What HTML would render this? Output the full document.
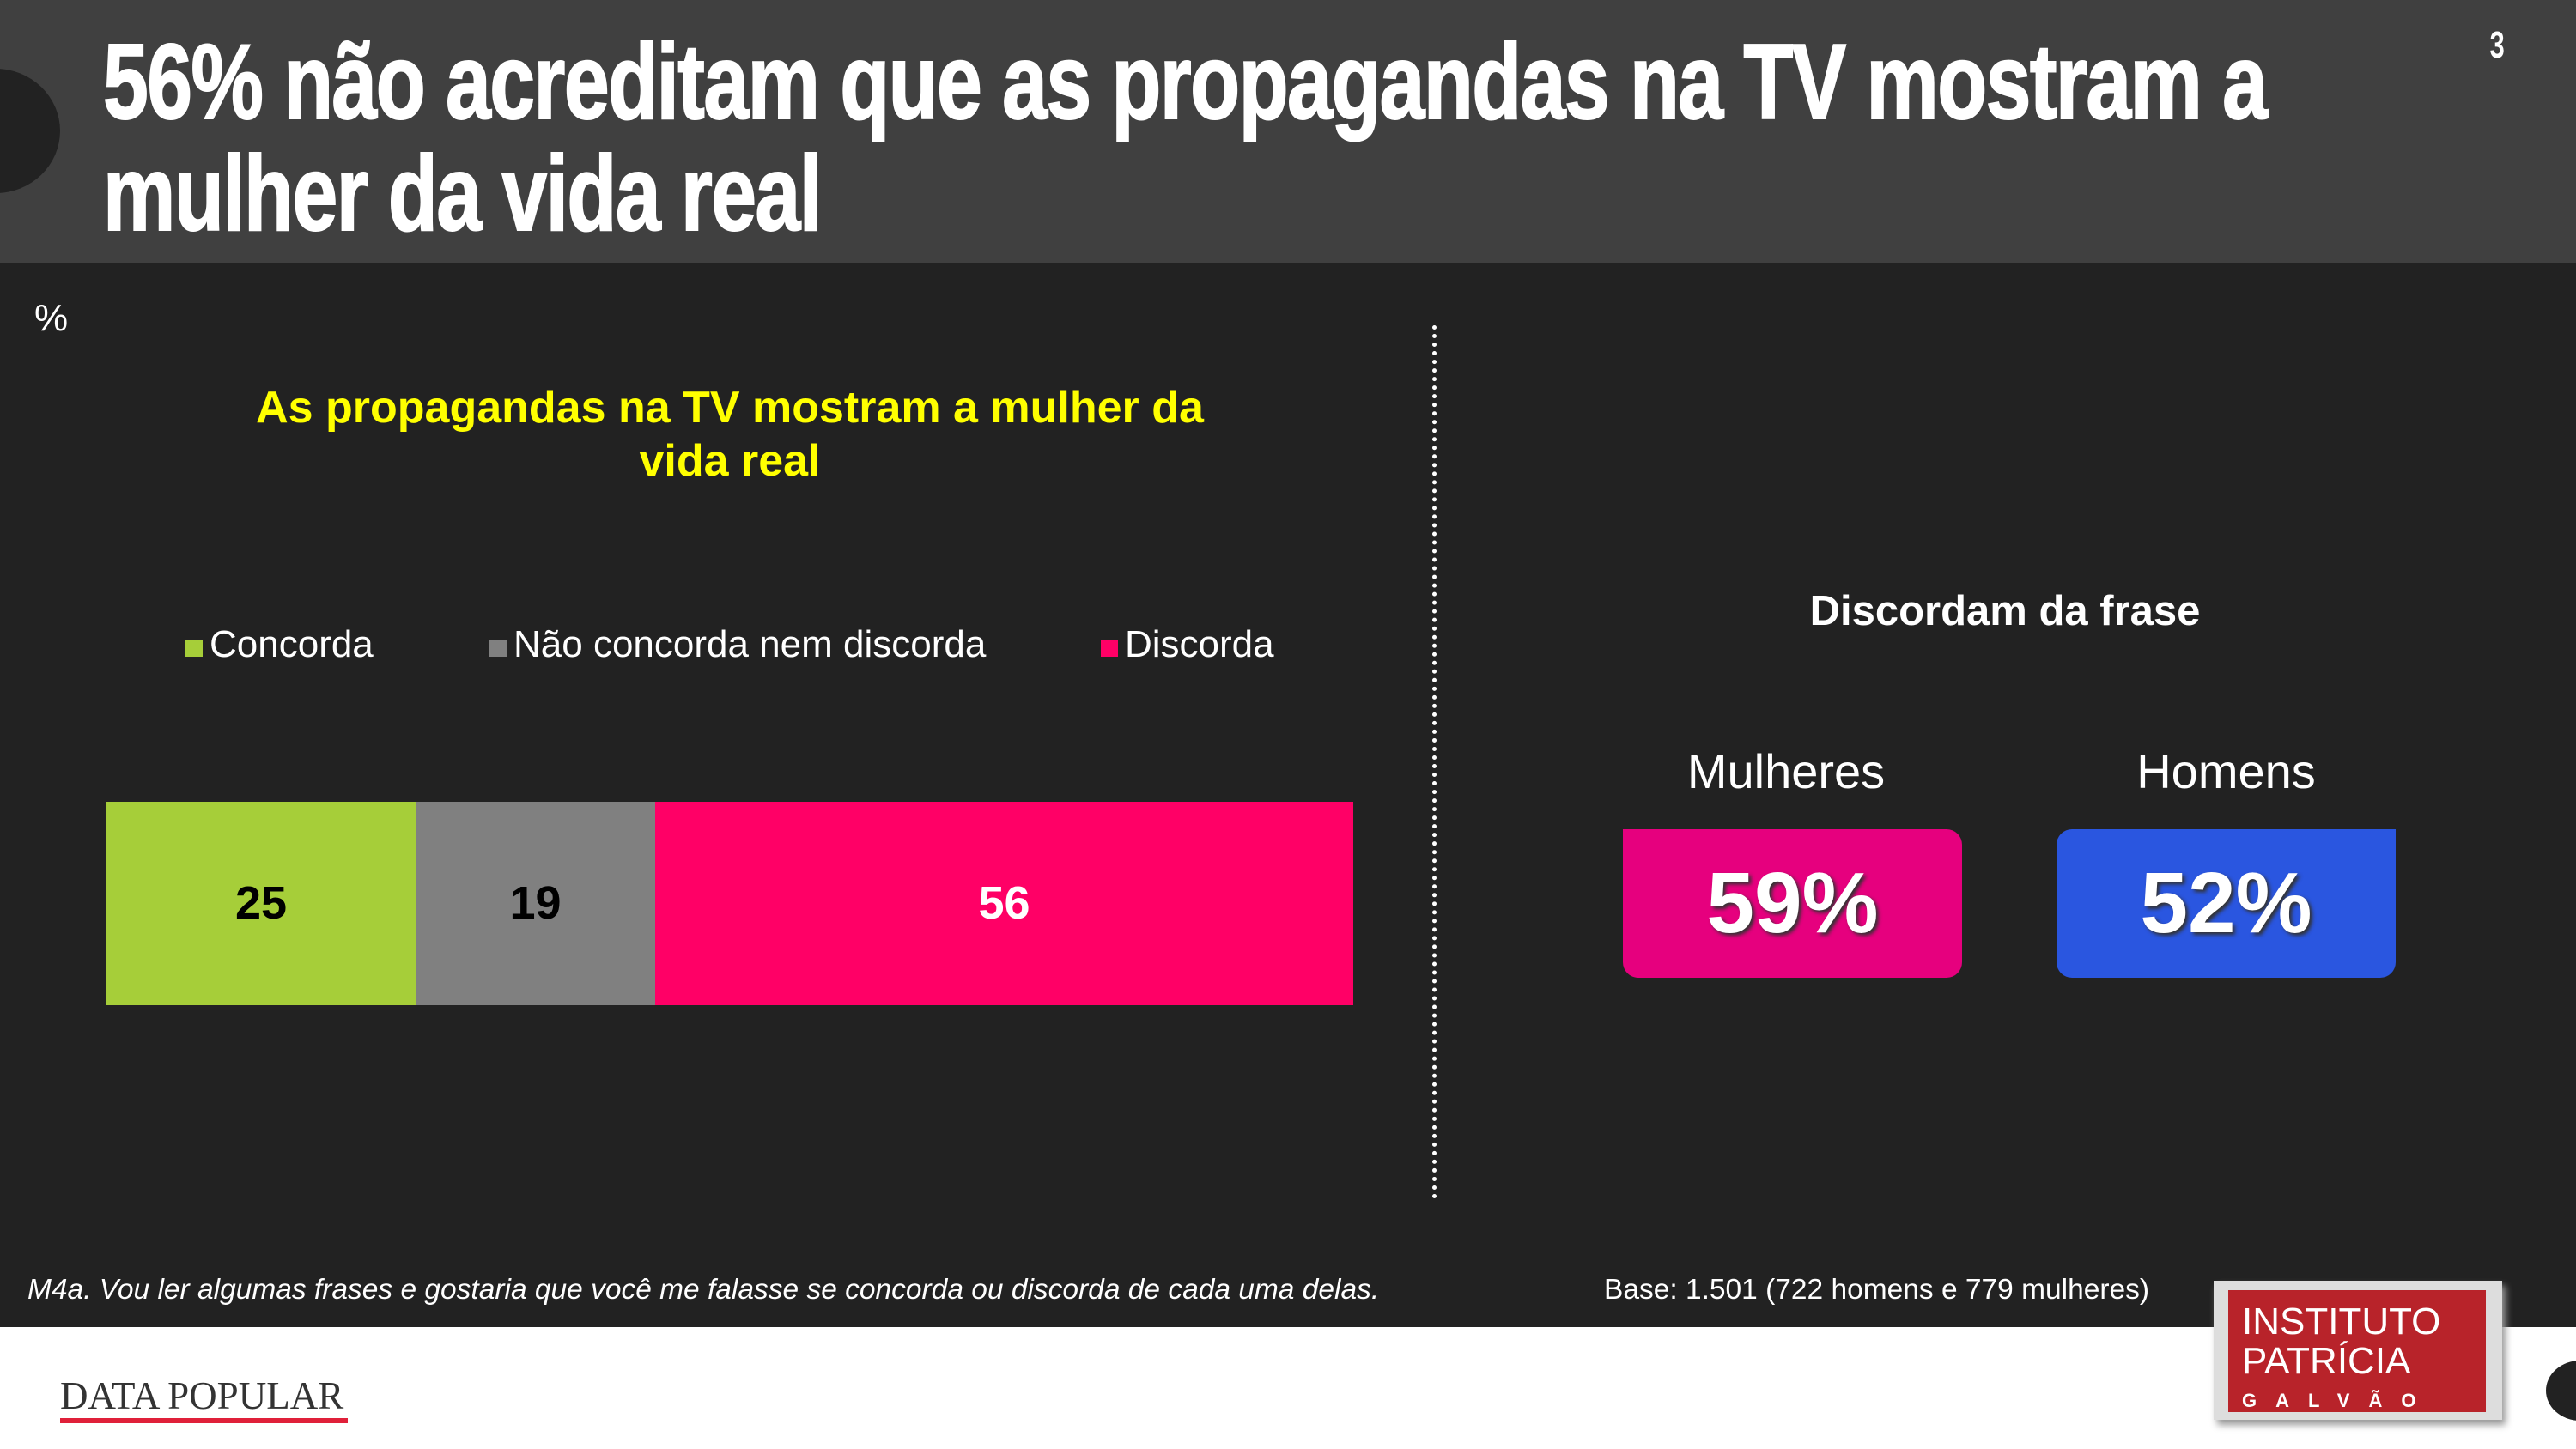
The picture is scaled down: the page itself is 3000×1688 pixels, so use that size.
<!DOCTYPE html>
<html><head><meta charset="utf-8"><style>
body{margin:0;width:3000px;height:1688px;overflow:hidden;background:#222;font-family:"Liberation Sans",sans-serif;position:relative}
div{position:absolute}
.t{color:#fff;font-weight:bold;font-size:124px;line-height:124px;transform-origin:0 0;transform:scaleX(0.765);white-space:nowrap;letter-spacing:-2px;-webkit-text-stroke:2px #fff}
</style></head><body>
<div style="left:0;top:0;width:3000px;height:306px;background:#404040"></div>
<div style="left:-80px;top:80px;width:150px;height:145px;border-radius:50%;background:#222"></div>
<div class="t" style="left:120px;top:34px">56% não acreditam que as propagandas na TV mostram a</div>
<div class="t" style="left:120px;top:164px">mulher da vida real</div>
<div style="left:2896px;top:28px;color:#fff;font-weight:bold;font-size:44px;transform:scaleX(0.7)">3</div>
<div style="left:40px;top:346px;color:#fff;font-size:44px">%</div>
<div style="left:150px;top:444px;width:1400px;text-align:center;color:#ffff00;font-weight:bold;font-size:52px;line-height:62px">As propagandas na TV mostram a mulher da<br>vida real</div>
<div style="left:216px;top:726px;color:#fff;font-size:44px;white-space:nowrap"><span style="display:inline-block;width:20px;height:20px;background:#a6ce39;margin-right:8px"></span>Concorda</div>
<div style="left:570px;top:726px;color:#fff;font-size:44px;white-space:nowrap"><span style="display:inline-block;width:20px;height:20px;background:#808080;margin-right:8px"></span>Não concorda nem discorda</div>
<div style="left:1282px;top:726px;color:#fff;font-size:44px;white-space:nowrap"><span style="display:inline-block;width:20px;height:20px;background:#ff0066;margin-right:8px"></span>Discorda</div>
<div style="left:124px;top:934px;width:360px;height:237px;background:#a6ce39;color:#000;font-weight:bold;font-size:54px;line-height:237px;text-align:center">25</div>
<div style="left:484px;top:934px;width:279px;height:237px;background:#808080;color:#000;font-weight:bold;font-size:54px;line-height:237px;text-align:center">19</div>
<div style="left:763px;top:934px;width:813px;height:237px;background:#ff0066;color:#fff;font-weight:bold;font-size:54px;line-height:237px;text-align:center">56</div>
<div style="left:1668px;top:379px;height:1018px;border-left:5px dotted #fff"></div>
<div style="left:1935px;top:684px;width:800px;text-align:center;color:#fff;font-weight:bold;font-size:49px">Discordam da frase</div>
<div style="left:1890px;top:866px;width:380px;text-align:center;color:#fff;font-size:56px">Mulheres</div>
<div style="left:2395px;top:866px;width:395px;text-align:center;color:#fff;font-size:56px">Homens</div>
<div style="left:1890px;top:966px;width:395px;height:173px;background:#e6007e;border-radius:0 18px 18px 18px;color:#fff;font-weight:bold;font-size:100px;line-height:173px;text-align:center;text-shadow:3px 3px 4px #333">59%</div>
<div style="left:2395px;top:966px;width:395px;height:173px;background:#2a56e0;border-radius:18px 0 18px 18px;color:#fff;font-weight:bold;font-size:100px;line-height:173px;text-align:center;text-shadow:3px 3px 4px #333">52%</div>
<div style="left:32px;top:1484px;color:#fff;font-style:italic;font-size:33.5px;white-space:nowrap">M4a. Vou ler algumas frases e gostaria que você me falasse se concorda ou discorda de cada uma delas.</div>
<div style="left:1868px;top:1484px;color:#fff;font-size:33.5px;white-space:nowrap">Base: 1.501 (722 homens e 779 mulheres)</div>
<div style="left:0;top:1546px;width:3000px;height:142px;background:#fff"></div>
<div style="left:70px;top:1600px;color:#333;font-family:'Liberation Serif',serif;font-size:45px;white-space:nowrap">DATA POPULAR</div>
<div style="left:70px;top:1652px;width:335px;height:6px;background:#e0203a"></div>
<div style="left:2578px;top:1492px;width:336px;height:162px;background:#ddd;box-shadow:4px 6px 8px #999"></div>
<div style="left:2595px;top:1503px;width:300px;height:142px;background:#b8232a;color:#fff;font-size:44px;line-height:46px;padding-left:16px;box-sizing:border-box;padding-top:14px">INSTITUTO<br>PATRÍCIA<div style="position:static;font-size:22px;letter-spacing:22px;font-weight:bold">GALVÃO</div></div>
<div style="left:2965px;top:1585px;width:80px;height:70px;border-radius:50%;background:#222"></div>
</body></html>
